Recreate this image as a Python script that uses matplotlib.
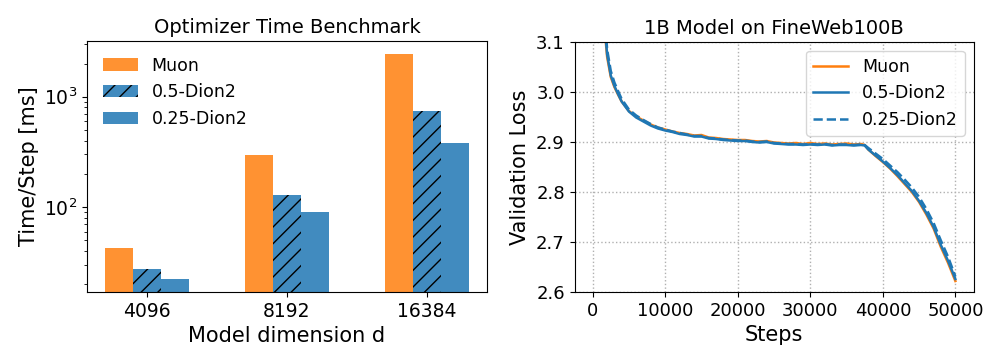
import numpy as np
import matplotlib
matplotlib.use("Agg")
import matplotlib.pyplot as plt

# left panel: time per step (ms)
dims = ["4096", "8192", "16384"]
muon_ms = [43, 299, 2430]
dion05_ms = [27.5, 128, 743]
dion025_ms = [22.4, 89.6, 378]

# right panel: validation loss curves
steps = [1000, 1500, 2000, 2500, 3000, 3500, 4000, 5000, 6000, 7000, 8000, 9000,
         10000, 11000, 12000, 13000, 14000, 15000, 16000, 17000, 18000, 19000,
         20000, 21000, 22000, 23000, 24000, 25000, 26000, 27000, 28000, 29000,
         30000, 31000, 32000, 33000, 34000, 35000, 36000, 37000, 37500, 38000,
         39000, 40000, 41000, 42000, 43000, 44000, 45000, 46000, 47000, 48000,
         49000, 50000]
loss_muon = [3.35, 3.15, 3.07, 3.03, 3.01, 2.995, 2.981, 2.962, 2.951, 2.943, 2.935, 2.929,
             2.925, 2.921, 2.918, 2.916, 2.913, 2.914, 2.909, 2.908, 2.906, 2.905,
             2.904, 2.904, 2.902, 2.901, 2.902, 2.899, 2.898, 2.897, 2.898, 2.896,
             2.898, 2.896, 2.897, 2.895, 2.896, 2.897, 2.895, 2.896, 2.894, 2.885,
             2.872, 2.860, 2.847, 2.832, 2.816, 2.800, 2.780, 2.755, 2.727, 2.690,
             2.658, 2.622]
loss_dion05 = [3.36, 3.16, 3.075, 3.033, 3.012, 2.996, 2.981, 2.961, 2.949, 2.941, 2.933, 2.927,
               2.923, 2.920, 2.916, 2.914, 2.911, 2.911, 2.907, 2.906, 2.904, 2.903,
               2.902, 2.902, 2.900, 2.899, 2.900, 2.897, 2.896, 2.895, 2.895, 2.894,
               2.895, 2.894, 2.895, 2.893, 2.894, 2.894, 2.893, 2.894, 2.893, 2.885,
               2.873, 2.861, 2.848, 2.834, 2.818, 2.802, 2.782, 2.758, 2.730, 2.694,
               2.662, 2.626]
loss_dion025 = [3.38, 3.18, 3.085, 3.042, 3.019, 3.002, 2.986, 2.965, 2.953, 2.944, 2.936, 2.929,
                2.925, 2.921, 2.918, 2.915, 2.912, 2.912, 2.908, 2.907, 2.905, 2.904,
                2.903, 2.903, 2.901, 2.900, 2.901, 2.898, 2.897, 2.896, 2.896, 2.895,
                2.896, 2.895, 2.896, 2.894, 2.895, 2.895, 2.894, 2.895, 2.894, 2.888,
                2.877, 2.866, 2.853, 2.840, 2.825, 2.809, 2.790, 2.766, 2.738, 2.703,
                2.670, 2.631]

fig = plt.figure(figsize=(9.96, 3.63), dpi=100)
ax1 = fig.add_axes([87.3 / 996, 1 - 292 / 363, (486.7 - 87.3) / 996, (292 - 41) / 363])
ax2 = fig.add_axes([574.5 / 996, 1 - 292 / 363, (973.5 - 574.5) / 996, (292 - 42) / 363])

x = np.arange(len(dims))
w = 0.2
ax1.bar(x - w, muon_ms, w, color="tab:orange", alpha=0.85, label="Muon")
ax1.bar(x, dion05_ms, w, color="tab:blue", alpha=0.85, hatch="//", label="0.5-Dion2")
ax1.bar(x + w, dion025_ms, w, color="tab:blue", alpha=0.85, label="0.25-Dion2")
ax1.set_yscale("log")
ax1.set_ylim(17, 3200)
ax1.set_xticks(x)
ax1.set_xticklabels(dims)
ax1.tick_params(labelsize=13.5)
ax1.set_xlabel("Model dimension d", fontsize=15)
ax1.set_ylabel("Time/Step [ms]", fontsize=15)
ax1.set_title("Optimizer Time Benchmark", fontsize=14)
ax1.legend(loc="upper left", fontsize=12.5, frameon=False)

ax2.plot(steps, loss_muon, color="tab:orange", lw=1.8, label="Muon")
ax2.plot(steps, loss_dion05, color="tab:blue", lw=1.8, label="0.5-Dion2")
ax2.plot(steps, loss_dion025, color="tab:blue", lw=1.8, ls="--", label="0.25-Dion2")
ax2.set_ylim(2.6, 3.1)
ax2.set_xlim(-2500, 52500)
ax2.set_xticks([0, 10000, 20000, 30000, 40000, 50000])
ax2.grid(True, ls=":", lw=1)
ax2.tick_params(labelsize=13)
ax2.set_xlabel("Steps", fontsize=15)
ax2.set_ylabel("Validation Loss", fontsize=15)
ax2.set_title("1B Model on FineWeb100B", fontsize=14)
ax2.legend(loc="upper right", fontsize=12.5)

fig.savefig("out.png", dpi=100)
